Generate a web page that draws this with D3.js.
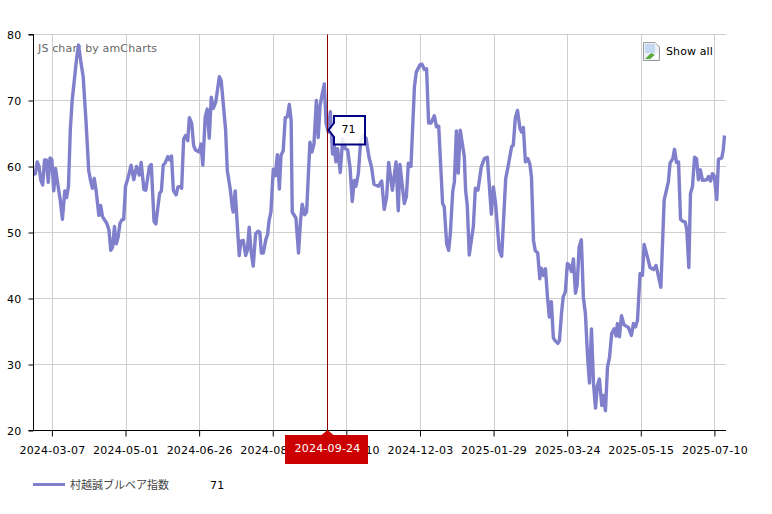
<!DOCTYPE html>
<html>
<head>
<meta charset="utf-8">
<script src="https://cdn.jsdelivr.net/npm/d3@7"></script>
<style>
html,body{margin:0;padding:0;background:#fff;overflow:hidden}
svg{display:block}
text{font-family:"DejaVu Sans",Verdana,sans-serif;font-size:11px}
</style>
</head>
<body>
<div id="chart"></div>
<script>
const tickDates = ["2024-03-07","2024-05-01","2024-06-26","2024-08-21","2024-10-10","2024-12-03","2025-01-29","2025-03-24","2025-05-15","2025-07-10"];
const tickIndex = [10,50,90,130,170,210,250,290,330,370];
const yTicks = [20,30,40,50,60,70,80];
const seriesName = "村越誠ブルベア指数";
const cursorDate = "2024-09-24";
const cursorIndex = 160;
const cursorValue = 71;
const dayIndex = [0,1,2,3,4,5,6,7,8,9,10,11,12,13,14.5,15.7,17,18,19,20,21,22,23.5,24.5,25.6,27,28.5,30,31,32,33,34,35.5,36.5,37.5,39.8,41,42,43,44,45,46,47,48,49,50,51.5,53,54.5,56,57.5,58.5,60,61,63,64,65.5,66.5,68.5,69.5,70.5,71.5,73,74,75,76,77.5,78.5,80,80.5,81.6,82.7,83.8,84.7,
86,87,88,90,91,92,93.3,94.4,95.5,96.6,97.7,99,101,102,104.4,105.3,107,108,108.5,109.6,110.7,111.8,112.7,114,115.3,116.2,117.2,118.3,119.4,120.7,122,123,123.8,124.9,126.3,127.2,128,129,130.3,131.4,132.5,133.6,134.5,135.7,136.8,137.9,139,140,140.6,142.6,144,145.1,146,147.3,148.4,150.2,151.3,152.4,153.7,154.7,155.7,156.9,158,159,160.2,161.3,162.5,163.4,164.3,165.2,166.7,168,169.2,170.7,172,173.2,174.3,175.2,176.5,177.8,179.2,180.7,182.3,183.7,185,187.4,189.2,190.6,191.9,193,195,197,198.2,199.1,201.5,202.6,203.7,205.1,207,208,210,211.1,212.4,213.6,214.7,216,217.8,219,220.2,222.3,223.2,224.5,225.6,226.5,227.8,228.7,229.8,230.8,231.9,234.1,234.8,235.7,236.8,239,240.1,241.5,243.3,245,246.6,248.8,249.9,251.1,253.1,254.4,256.6,257.5,259.8,260.7,261.8,263,264.4,265.3,266.2,267.3,268.6,269.7,270.6,271.7,272.6,274,275.1,276,277.1,278.2,279.3,280.3,281.4,282.5,283.8,284.9,285.8,286.9,287.8,289,290.1,291.2,292.3,293.4,294.5,295.4,296.5,297.7,298.8,299.9,301,302.1,303.2,304.3,305.4,306.4,307.5,308.8,309.7,310.8,311.9,313,314.2,315.5,316.6,317.3,318.4,319.5,320.9,323.3,324.9,326,327.1,328.2,329.6,330.9,331.8,333.6,335,336.9,338.3,340.9,342.7,345,345.9,347.4,348.3,349.4,350.5,351.6,352.8,354.1,355,356.1,357,358.1,359.2,360.3,361.3,362.4,363.5,365.9,366.8,367.9,368.9,369.9,371.3,372.2,374,374.8,375.5];
const bullBear = [58.8,58.9,60.7,60,57.9,57.2,61,61,57.6,61.3,61,56.3,59.7,57.7,55,52,56.3,55.3,57,65.5,70,72.6,76.6,78.4,76.1,73.6,67,59.4,57.9,56.7,58.2,56.4,52.6,54.1,52.4,51.4,50.4,47.3,47.8,50.9,48.3,49.3,51.4,51.9,52,57,58.4,60.2,58,60,58.7,60.6,56.5,56.4,60,60.3,51.7,51.3,55.9,56.3,60.2,60.5,61.5,61,61.6,56.4,55.7,56.9,57,56.7,64.2,64.7,63.9,67.4,
66.5,63.2,62.5,62.2,63.4,60.2,67.5,68.7,64.3,70.5,68.8,69.7,73.6,73,65.5,59.4,56.4,53.8,53.1,56.3,51.3,46.5,48.7,48.8,46.5,47.3,50.8,47,44.9,49.8,50.2,50,46.9,46.9,49,49.7,51.8,53.1,59.6,58.6,61.8,56.6,61.7,62.4,67.4,67.5,69.4,67,53.1,52.2,46.9,51.8,54.3,52.7,53.1,63.7,62.2,63.4,70,64.4,69.2,71,72.5,66.5,65.2,68.3,61.9,63.2,60.7,62.7,59.1,64.2,62.8,62.5,59.9,54.7,57.9,57,58.9,63.9,64.7,64.3,61.4,59.9,57.3,57,57.8,53.5,55.4,60.6,56.4,60.7,53.3,60.3,54.4,55.4,60.5,60,72.1,74.3,75.4,75.5,74.7,74.8,66.6,66.6,67.7,66,66.1,54.4,53.9,48.3,47.3,49.8,56.2,57.7,65.4,59,65.5,61.5,56.4,54.1,46.6,50.9,56.7,56.4,59.9,61.2,61.4,52.8,56.9,54.4,47.3,46.4,58.2,59.4,63,63.2,67.3,68.5,65.7,65.2,65.9,60.7,61.2,60.4,58.4,48.8,47.3,46.9,43,44.6,43.5,44.5,40.2,37.2,39.5,34,33.5,33.2,33.6,37.7,40.2,41,45.3,45,44.1,46,40.8,42,47.8,48.9,40.2,37.7,31.6,27.2,35.4,27.1,23.4,26.8,27.8,23.8,25.3,23,29.6,31.1,34.7,35.4,34.3,36.2,34.2,37.4,36,35.6,34.4,36.2,35.7,36.7,43.8,43.5,48.2,46.3,44.7,44.4,45,41.7,54.9,57.7,60.5,61.2,62.6,60.6,60.7,52,51.7,51.6,50.4,44.7,55.9,57,61.4,61.2,58,59.5,57.9,58,58.5,57.8,58.9,58.6,55,61.1,61.3,62.5,64.7];

const W=772,H=514;
const m={l:33.5,r:726,t:34.5,b:430.5};
const x=d3.scaleLinear().domain([0,376.3]).range([m.l,m.r]);
const y=d3.scaleLinear().domain([20,80]).range([m.b,m.t]);
const svg=d3.select("#chart").append("svg").attr("width",W).attr("height",H);
const gridC="#cfcfcf";

// grid
svg.append("g").selectAll("line").data(yTicks).join("line")
  .attr("x1",m.l).attr("x2",m.r).attr("y1",d=>y(d)).attr("y2",d=>y(d)).attr("stroke",gridC);
svg.append("g").selectAll("line").data(tickIndex).join("line")
  .attr("x1",d=>Math.round(x(d))+.5).attr("x2",d=>Math.round(x(d))+.5).attr("y1",m.t).attr("y2",m.b).attr("stroke",gridC);

// watermark
svg.append("text").attr("x",38).attr("y",52).attr("fill","#666").style("letter-spacing",".15px").text("JS chart by amCharts");

// series
const line=d3.line().x((d,i)=>x(dayIndex[i])).y(d=>y(d)).curve(d3.curveLinear);
svg.append("path").datum(bullBear).attr("d",line).attr("fill","none").attr("stroke","#7f7fcc")
  .attr("stroke-width",3.4).attr("stroke-linejoin","round");

// axes
const axL=d3.axisLeft(y).tickValues(yTicks).tickSize(5).tickPadding(6);
const gL=svg.append("g").attr("transform",`translate(${m.l},0)`).call(axL);
gL.select(".domain").attr("d",`M-5,${m.t}H0V${m.b}H-5`);
gL.selectAll("text").attr("font-size",null).attr("font-family",null).attr("fill","#000").attr("dx",-1).style("letter-spacing",".3px");
const axB=d3.axisBottom(x).tickValues(tickIndex).tickFormat((d,i)=>tickDates[i]).tickSize(6).tickPadding(10);
const gB=svg.append("g").attr("transform",`translate(0,${m.b})`).call(axB);
gB.select(".domain").attr("d",`M${m.l},0H${m.r}`);
gB.selectAll("text").attr("font-size",null).attr("font-family",null).attr("fill","#000").style("letter-spacing",".2px");

// cursor
const cx=Math.floor(x(cursorIndex))+.5;
svg.append("line").attr("x1",cx).attr("x2",cx).attr("y1",m.t).attr("y2",m.b).attr("stroke","#8a0000");
svg.append("path").attr("d",`M${cx-6},435H${cx-42.5}V464H${cx+40.5}V435H${cx+6}L${cx},430Z`).attr("fill","#cc0000");
svg.append("text").attr("x",cx).attr("y",452).attr("text-anchor","middle").attr("fill","#fff").style("letter-spacing",".2px").text(cursorDate);

// balloon
const by=130;
svg.append("path").attr("d",`M${cx+1},${by}L${cx+6.5},${by-7}V116H${cx+37.5}V144.5H${cx+6.5}V${by+7}Z`)
  .attr("fill","#fff").attr("fill-opacity",.85).attr("stroke","#000080").attr("stroke-width",2);
svg.append("text").attr("x",cx+21).attr("y",133).attr("text-anchor","middle").attr("fill","#000").text(cursorValue);

// show all button
const ic=svg.append("g").attr("transform","translate(643,42)");
ic.append("path").attr("d","M.5,.5H12L16.5,5V18.5H.5Z").attr("fill","#eef2f8").attr("stroke","#9a9a9a");
ic.append("rect").attr("x",2).attr("y",2).attr("width",10).attr("height",9).attr("fill","#c4d8f2");
ic.append("path").attr("d","M2,17L8,11L12,13L7,17Z").attr("fill","#5aa83c");
ic.append("path").attr("d","M8,17L14,11L15,12V17Z").attr("fill","#fff");
svg.append("text").attr("x",666).attr("y",55).attr("fill","#000").style("letter-spacing",".1px").text("Show all");

// legend
svg.append("line").attr("x1",33).attr("x2",65).attr("y1",484.5).attr("y2",484.5).attr("stroke","#7f7fcc").attr("stroke-width",3);
svg.append("text").attr("x",70).attr("y",488.5).style("font-family",'"Noto Sans CJK JP"').style("font-size","11px").attr("fill","#444").text(seriesName);
svg.append("text").attr("x",210).attr("y",489).attr("fill","#000").style("letter-spacing",".3px").text(cursorValue);
</script>
</body>
</html>
